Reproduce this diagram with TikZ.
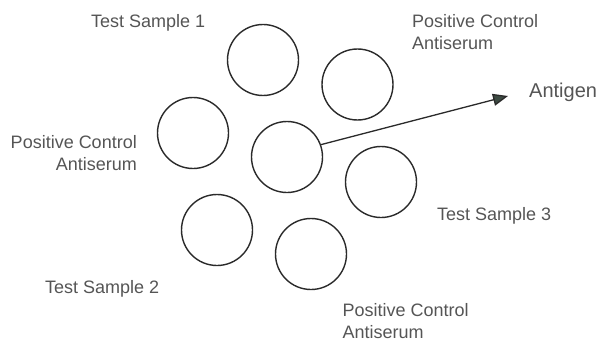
\documentclass[tikz,border=0pt]{standalone}
\usepackage{fontspec}
\setmainfont{Liberation Sans}
\usetikzlibrary{arrows.meta}
\definecolor{labelgray}{HTML}{555555}
\definecolor{ringgray}{HTML}{2A2A2A}
\definecolor{tipgreen}{HTML}{3C4A42}

\begin{document}
\begin{tikzpicture}[x=1pt, y=-1pt, line cap=round,
    well/.style={circle, draw=ringgray, line width=1.4pt, minimum size=71pt,
                 inner sep=0pt},
    lbl/.style={text=labelgray, inner sep=0pt,
                font=\fontsize{18}{21.7}\selectfont}]

  \useasboundingbox (0,0) rectangle (601,342);

  % ---- wells: antigen in the middle, six antisera round it ----------------
  \foreach \n/\x/\y in {ag/287/157, ts1/263/60, pc1/357.5/84.5, pc2/193/133,
                        ts3/381/182, ts2/217/230, pc3/311/254}{
    \node[well] (\n) at (\x,\y) {};}

  % ---- arrow out of the antigen well --------------------------------------
  \coordinate (agtip) at (508,96);
  \draw[line width=1.3pt, ringgray,
        -{Triangle[length=15pt, width=12pt, fill=tipgreen]}] (ag.20) -- (agtip);

  % ---- labels (two-line ones sit on the baseline of their last line) ------
  \node[lbl, anchor=base west] (ts1lbl) at (91,28) {Test Sample 1};
  \node[lbl, anchor=base west, align=left] (pc1lbl) at (412,49.3)
    {Positive Control\\Antiserum};
  \node[lbl, anchor=base east, align=right] (pc2lbl) at (137,170)
    {Positive Control\\Antiserum};
  \node[lbl, anchor=base west] (ts3lbl) at (437,220.7) {Test Sample 3};
  \node[lbl, anchor=base west] (ts2lbl) at (45,293.3) {Test Sample 2};
  \node[lbl, anchor=base west, align=left] (pc3lbl) at (342.3,338.5)
    {Positive Control\\Antiserum};
  \node[lbl, anchor=base west, font=\fontsize{20}{24}\selectfont] (aglbl)
    at (529,97) {Antigen};
\end{tikzpicture}
\end{document}
